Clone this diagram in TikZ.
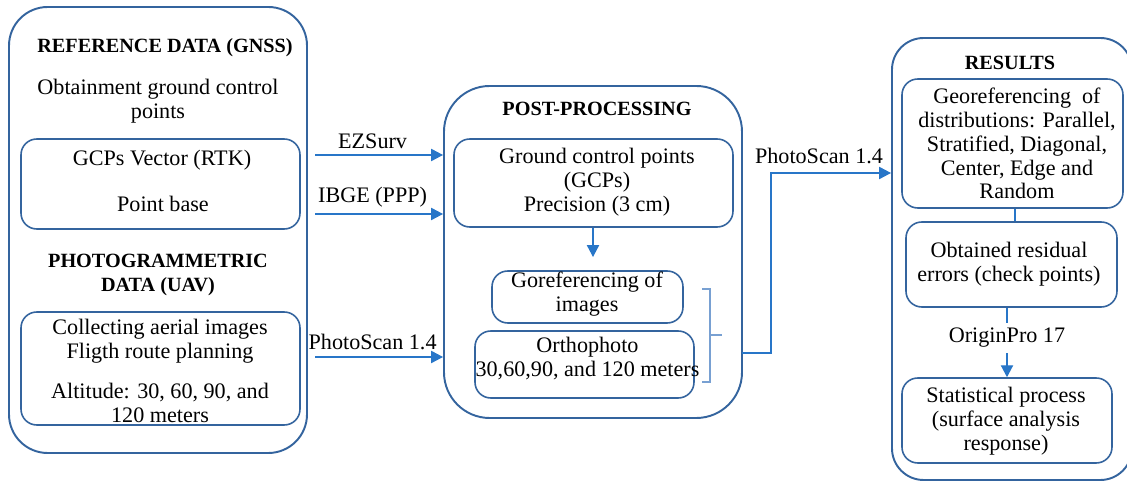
\documentclass[tikz,border=0pt]{standalone}
\usepackage{fontspec}
\setmainfont{Liberation Serif}
\usetikzlibrary{arrows.meta,calc}
\definecolor{boxblue}{RGB}{52,100,158}
\definecolor{arrblue}{RGB}{40,118,200}
\definecolor{brblue}{RGB}{120,160,210}
\begin{document}
\begin{tikzpicture}[x=0.02cm,y=-0.02cm,
  outerbox/.style={draw=boxblue,line width=1.1pt,rounded corners=22pt,inner sep=0pt},
  innerbox/.style={draw=boxblue,line width=0.9pt,rounded corners=9pt,inner sep=0pt},
  txt/.style={font=\fontsize{12.6}{13.6}\selectfont,align=center,inner sep=0pt},
  head/.style={font=\fontsize{11.5}{13.6}\selectfont\bfseries,align=center,inner sep=0pt},
  lbl/.style={font=\fontsize{12.6}{13.6}\selectfont,inner sep=0pt},
  conn/.style={draw=arrblue,line width=0.7pt,-{Triangle[length=6.8pt,width=7pt]}},
  plain/.style={draw=arrblue,line width=0.7pt},
  brk/.style={draw=brblue,line width=0.7pt}]
\useasboundingbox (0,0) rectangle (1127,482);
% ---- left column
\node[outerbox,minimum width=298*0.02cm,minimum height=446*0.02cm] (left) at (158,230) {};
\node[head] (refh) at (165,48) {REFERENCE DATA (GNSS)};
\node[txt] (obt) at (158,101) {Obtainment ground control\\points};
\node[innerbox,minimum width=279*0.02cm,minimum height=90*0.02cm] (gcpv) at (160.5,184) {};
\node[txt] (gcpvt) at (162,160) {GCPs Vector (RTK)};
\node[txt] (pbase) at (163,204) {Point base};
\node[head] (photh) at (158,275) {PHOTOGRAMMETRIC\\DATA (UAV)};
\node[innerbox,minimum width=279*0.02cm,minimum height=113*0.02cm] (coll) at (160.5,368.5) {};
\node[txt] (collt) at (160,341.5) {Collecting aerial images\\Fligth route planning};
\node[txt] (alt) at (160,402.5) {Altitude: 30, 60, 90, and\\120 meters};
% ---- middle column
\node[outerbox,minimum width=298*0.02cm,minimum height=332*0.02cm,rounded corners=26pt] (mid) at (593,252) {};
\node[head] (posth) at (597,109) {POST-PROCESSING};
\node[innerbox,minimum width=279*0.02cm,minimum height=88*0.02cm] (gcp) at (593.5,183) {};
\node[txt] (gcpt) at (597,182) {Ground control points\\(GCPs)\\Precision (3 cm)};
\node[innerbox,minimum width=191*0.02cm,minimum height=52*0.02cm] (gore) at (587.5,297) {};
\node[txt] (goret) at (587,294) {Goreferencing of\\images};
\node[innerbox,minimum width=219*0.02cm,minimum height=67*0.02cm] (orth) at (584.5,364.5) {};
\node[txt] (ortht) at (587.5,358.5) {Orthophoto\\30,60,90, and 120 meters};
% ---- right column
\node[outerbox,minimum width=240*0.02cm,minimum height=442*0.02cm,rounded corners=18pt] (res) at (1012,259) {};
\node[head] (resh) at (1010,63) {RESULTS};
\node[innerbox,minimum width=221*0.02cm,minimum height=129*0.02cm] (geo) at (1012.5,143.5) {};
\node[txt] (geot) at (1017,143.5) {Georeferencing\ \ of\\distributions: Parallel,\\Stratified, Diagonal,\\Center, Edge and\\Random};
\node[innerbox,minimum width=211*0.02cm,minimum height=85*0.02cm] (res2) at (1011.5,264.5) {};
\node[txt] (res2t) at (1009,264.5) {Obtained residual\\errors (check points)};
\node[innerbox,minimum width=210*0.02cm,minimum height=85*0.02cm] (stat) at (1007,420.5) {};
\node[txt] (statt) at (1006,421.5) {Statistical process\\(surface analysis\\response)};
% ---- connectors
\coordinate (ez) at (315,155);
\coordinate (ib) at (315,214);
\coordinate (ps) at (315,357);
\draw[conn] (ez) -- node[lbl,above=3.5pt,pos=0.45] (ezl) {EZSurv} (ez -| mid.west);
\draw[conn] (ib) -- node[lbl,above=3.5pt,pos=0.45] (ibl) {IBGE (PPP)} (ib -| mid.west);
\draw[conn] (ps) -- node[lbl,above=3.5pt,pos=0.45] (psl) {PhotoScan 1.4} (ps -| mid.west);
\coordinate (gdown) at (593,257);
\draw[conn] (gcp.south -| gdown) -- (gdown);
\draw[brk] (702,289) -- (710,289) -- (710,382) -- (702,382);
\draw[brk] (710,335) -- (722,335);
\coordinate (mr) at (742,353);
\coordinate (turn) at (771,353);
\draw[conn] (mr) -- (turn) -- (turn |- 0,173) -- node[lbl,above=5pt,pos=0.4] (psl2) {PhotoScan 1.4} (res.west |- 0,173);
\draw[plain] (geo.south -| 1015,0) -- (res2.north -| 1015,0);
\draw[conn] (res2.south -| stat.north) -- node[lbl,fill=white,inner sep=3pt,pos=0.43] (orig) {OriginPro 17} (stat.north);
\end{tikzpicture}
\end{document}
